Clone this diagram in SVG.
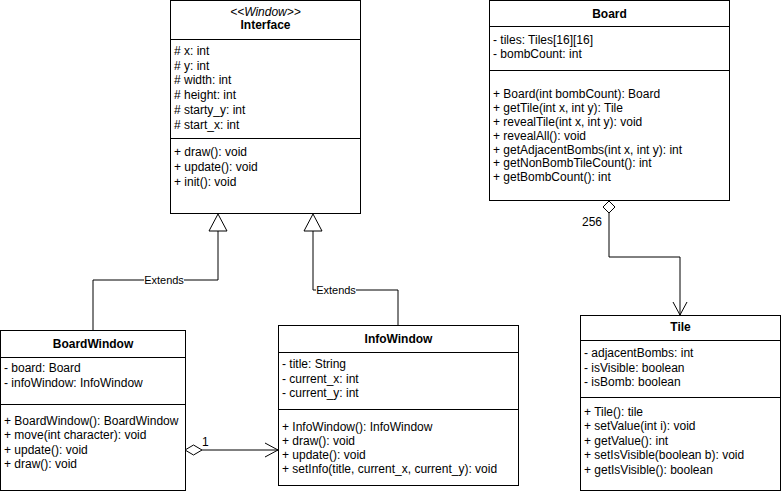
<svg xmlns="http://www.w3.org/2000/svg" width="782" height="494" viewBox="0 0 782 494">
<style>
.box{fill:#fff;stroke:#000;stroke-width:1}
.div{stroke:#000;stroke-width:1}
text{font-family:"Liberation Sans",Arial,sans-serif;font-size:12px;fill:#000}
.t{font-weight:bold;text-anchor:middle}
.st{font-style:italic;text-anchor:middle}
.ln{fill:none;stroke:#000;stroke-width:1}
.lbl{font-size:11px}
</style>
<rect width="782" height="494" fill="#fff"/>
<g id="connectors">
  <path class="ln" d="M218,231 V280 H93 V330"/>
  <path class="ln" d="M218,214 L209,231 H227 Z" fill="#fff"/>
  <rect x="144" y="273" width="40" height="14" fill="#fff"/>
  <text class="lbl" x="164" y="284" text-anchor="middle">Extends</text>
  <path class="ln" d="M313,231 V290 H398 V325"/>
  <path class="ln" d="M313,214 L304,231 H322 Z" fill="#fff"/>
  <rect x="316" y="283" width="40" height="14" fill="#fff"/>
  <text class="lbl" x="336" y="294" text-anchor="middle">Extends</text>
  <path class="ln" d="M609,213 V257 H680 V315"/>
  <path class="ln" d="M609,201 L615,207 L609,213 L603,207 Z" fill="#fff"/>
  <path class="ln" d="M673,302 L680,315 L687,302"/>
  <text x="582" y="226">256</text>
  <path class="ln" d="M202,450 H278"/>
  <path class="ln" d="M185,450 L193.5,445 L202,450 L193.5,455 Z" fill="#fff"/>
  <path class="ln" d="M265,443 L278,450 L265,457"/>
  <text x="202" y="446">1</text>
</g>
<g id="Interface">
  <rect class="box" x="170.5" y="0.5" width="190" height="213"/>
  <text class="st" x="265.5" y="16">&lt;&lt;Window&gt;&gt;</text>
  <text class="t" x="265.5" y="29">Interface</text>
  <line class="div" x1="170.5" y1="39.5" x2="360.5" y2="39.5" stroke="#999"/>
  <text x="174" y="55"># x: int</text>
  <text x="174" y="70"># y: int</text>
  <text x="174" y="84"># width: int</text>
  <text x="174" y="99"># height: int</text>
  <text x="174" y="114"># starty_y: int</text>
  <text x="174" y="129"># start_x: int</text>
  <line class="div" x1="170.5" y1="138.5" x2="360.5" y2="138.5" stroke="#999"/>
  <text x="174" y="156">+ draw(): void</text>
  <text x="174" y="171">+ update(): void</text>
  <text x="174" y="186">+ init(): void</text>
</g>
<g id="Board">
  <rect class="box" x="489.5" y="0.5" width="240" height="200"/>
  <text class="t" x="609.5" y="18">Board</text>
  <line class="div" x1="489.5" y1="26.5" x2="729.5" y2="26.5"/>
  <text x="493" y="44">- tiles: Tiles[16][16]</text>
  <text x="493" y="58">- bombCount: int</text>
  <line class="div" x1="489.5" y1="70.5" x2="729.5" y2="70.5"/>
  <text x="493" y="98">+ Board(int bombCount): Board</text>
  <text x="493" y="112">+ getTile(int x, int y): Tile</text>
  <text x="493" y="126">+ revealTile(int x, int y): void</text>
  <text x="493" y="140">+ revealAll(): void</text>
  <text x="493" y="154">+ getAdjacentBombs(int x, int y): int</text>
  <text x="493" y="167">+ getNonBombTileCount(): int</text>
  <text x="493" y="181">+ getBombCount(): int</text>
</g>
<g id="BoardWindow">
  <rect class="box" x="0.5" y="330.5" width="185" height="160"/>
  <text class="t" x="93" y="348">BoardWindow</text>
  <line class="div" x1="0.5" y1="357.5" x2="185.5" y2="357.5"/>
  <text x="4" y="372">- board: Board</text>
  <text x="4" y="387">- infoWindow: InfoWindow</text>
  <line class="div" x1="0.5" y1="404.5" x2="185.5" y2="404.5"/>
  <text x="4" y="425">+ BoardWindow(): BoardWindow</text>
  <text x="4" y="439">+ move(int character): void</text>
  <text x="4" y="454">+ update(): void</text>
  <text x="4" y="468">+ draw(): void</text>
</g>
<g id="InfoWindow">
  <rect class="box" x="278.5" y="325.5" width="240" height="160"/>
  <text class="t" x="398.5" y="343">InfoWindow</text>
  <line class="div" x1="278.5" y1="352.5" x2="518.5" y2="352.5"/>
  <text x="282" y="368">- title: String</text>
  <text x="282" y="383">- current_x: int</text>
  <text x="282" y="397">- current_y: int</text>
  <line class="div" x1="278.5" y1="409.5" x2="518.5" y2="409.5"/>
  <text x="282" y="431">+ InfoWindow(): InfoWindow</text>
  <text x="282" y="445">+ draw(): void</text>
  <text x="282" y="459">+ update(): void</text>
  <text x="282" y="473">+ setInfo(title, current_x, current_y): void</text>
</g>
<g id="Tile">
  <rect class="box" x="580.5" y="315.5" width="200" height="175"/>
  <text class="t" x="680.5" y="331">Tile</text>
  <line class="div" x1="580.5" y1="340.5" x2="780.5" y2="340.5"/>
  <text x="584" y="357">- adjacentBombs: int</text>
  <text x="584" y="372">- isVisible: boolean</text>
  <text x="584" y="386">- isBomb: boolean</text>
  <line class="div" x1="580.5" y1="397.5" x2="780.5" y2="397.5"/>
  <text x="584" y="416">+ Tile(): tile</text>
  <text x="584" y="430">+ setValue(int i): void</text>
  <text x="584" y="445">+ getValue(): int</text>
  <text x="584" y="459">+ setIsVisible(boolean b): void</text>
  <text x="584" y="474">+ getIsVisible(): boolean</text>
</g>
</svg>
